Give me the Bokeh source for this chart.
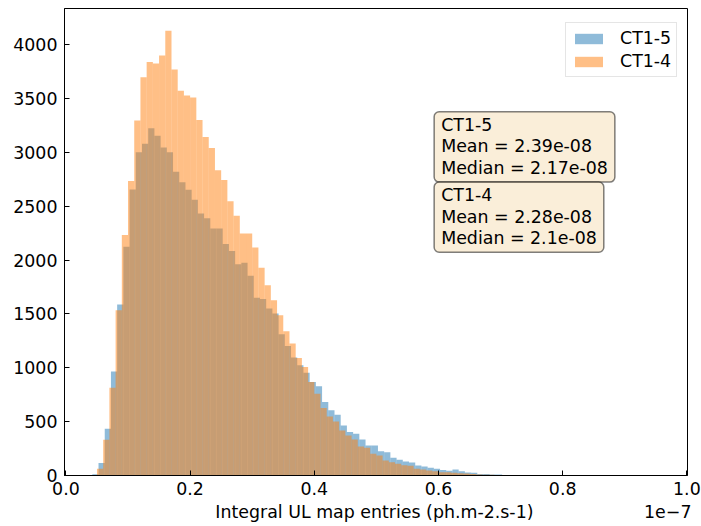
import numpy as np
from bokeh.plotting import figure
from bokeh.models import Label, Legend, LegendItem, Range1d, PrintfTickFormatter, FixedTicker
from bokeh.embed import file_html
from bokeh.resources import INLINE

# ---- data (x in units of 1e-7) ----
bin_start = 0.04
bin_width = 0.01
series_names = ["CT1-5", "CT1-4"]
ct15_counts = [12, 115, 434, 967, 1588, 2124, 2657, 3002, 3082, 3225, 3156, 3045, 3002, 2822,
               2723, 2654, 2561, 2434, 2388, 2295, 2295, 2149, 2084, 1963, 1975, 1854, 1650,
               1640, 1550, 1504, 1312, 1203, 1095, 1023, 955, 868, 830, 682, 605, 564, 465,
               403, 388, 335, 279, 279, 226, 217, 164, 146, 130, 121, 93, 84, 71, 62, 50, 45,
               56, 40, 28, 25, 15, 13, 9, 9, 5, 5, 3]
ct14_counts = [0, 62, 332, 816, 1535, 2233, 2735, 3296, 3699, 3839, 3826, 3901, 4130, 3771,
               3572, 3529, 3510, 3302, 3144, 3042, 2834, 2744, 2546, 2412, 2248, 2248, 2118,
               1929, 1767, 1628, 1488, 1340, 1225, 1091, 1008, 868, 760, 626, 549, 502, 419,
               372, 335, 270, 257, 202, 186, 140, 124, 110, 95, 90, 62, 55, 47, 40, 30, 30,
               25, 22, 18, 15, 10, 8, 6, 4, 3, 2, 0]
ct15_shift = 0.0025
x_ticks = [0.0, 0.2, 0.4, 0.6, 0.8, 1.0]
y_ticks = [0, 500, 1000, 1500, 2000, 2500, 3000, 3500, 4000]
stats_texts = ["CT1-5\nMean = 2.39e-08\nMedian = 2.17e-08",
               "CT1-4\nMean = 2.28e-08\nMedian = 2.1e-08"]
x_label = "Integral UL map entries (ph.m-2.s-1)"
offset_text = "1e\u22127"

FONT = "DejaVu Sans"
FS = "17.4px"
NB = "\u00a0"

edges = bin_start + bin_width * np.arange(len(ct14_counts) + 1)

p = figure(width=701, height=526, x_range=Range1d(-0.0023, 1.001), y_range=Range1d(0, 4337),
           output_backend="svg", toolbar_location=None,
           min_border_left=64, min_border_right=14, min_border_top=8, min_border_bottom=51)

r15 = p.quad(left=edges[:-1] + ct15_shift, right=edges[1:] + ct15_shift, top=ct15_counts, bottom=0,
             fill_color="#1f77b4", fill_alpha=0.5, line_color=None)
r14 = p.quad(left=edges[:-1], right=edges[1:], top=ct14_counts, bottom=0,
             fill_color="#ff7f0e", fill_alpha=0.5, line_color=None)

legend = Legend(items=[LegendItem(label=series_names[0], renderers=[r15]),
                       LegendItem(label=series_names[1], renderers=[r14])],
                location=(501, 398), label_text_font=FONT, label_text_font_size=FS,
                label_text_color="black",
                glyph_width=35, glyph_height=13, padding=5, spacing=3, label_standoff=14,
                margin=0, border_line_color="#cccccc", background_fill_alpha=0.8)
p.add_layout(legend)

for txt, ytop in zip(stats_texts, [3377, 2726]):
    p.add_layout(Label(x=0.593, y=ytop, text=txt, text_font=FONT, text_font_size=FS,
                       text_color="black",
                       text_align="left", text_baseline="top", text_line_height=1.08,
                       background_fill_color="wheat", background_fill_alpha=0.5,
                       border_line_color="black", border_line_alpha=0.5, border_line_width=1.5,
                       padding=(7, 7, 3, 4), border_radius=5))

p.xaxis.ticker = FixedTicker(ticks=x_ticks)
p.xaxis.formatter = PrintfTickFormatter(format="%.1f")
p.yaxis.ticker = FixedTicker(ticks=y_ticks)
for ax in (p.xaxis, p.yaxis):
    ax.major_tick_in = 5
    ax.major_tick_out = 0
    ax.minor_tick_in = 0
    ax.minor_tick_out = 0
    ax.axis_line_color = "black"
    ax.major_tick_line_color = "black"
    ax.major_label_text_font = FONT
    ax.major_label_text_font_size = FS
    ax.major_label_text_color = "black"
p.xaxis.major_label_standoff = 6
p.yaxis.major_label_standoff = 7
# axis label and the scale "offset" text share one line, as in the reference
p.xaxis.axis_label = NB * 28 + x_label + NB * 20 + offset_text
p.xaxis.axis_label_text_font = FONT
p.xaxis.axis_label_text_font_size = FS
p.xaxis.axis_label_text_font_style = "normal"
p.xaxis.axis_label_text_color = "black"
p.xaxis.axis_label_standoff = 4
p.xgrid.visible = False
p.ygrid.visible = False
p.outline_line_color = "black"
p.outline_line_width = 1
p.outline_line_alpha = 1

open("out.html", "w").write(file_html(p, INLINE))
